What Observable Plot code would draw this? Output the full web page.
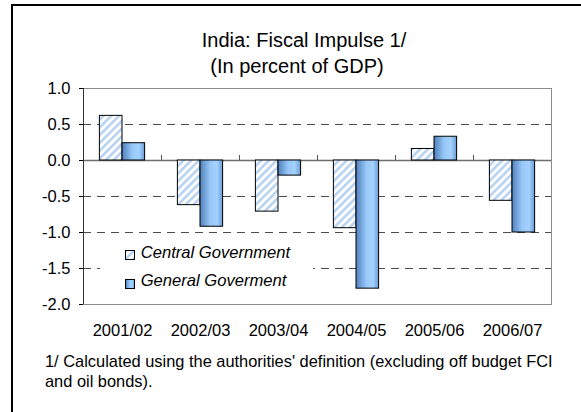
<!DOCTYPE html>
<html><head><meta charset="utf-8">
<script src="https://cdn.jsdelivr.net/npm/d3@7"></script>
<script src="https://cdn.jsdelivr.net/npm/@observablehq/plot@0.6"></script>
<style>
html,body{margin:0;padding:0;background:#fff;overflow:hidden;width:581px;height:412px}
body{font-family:"Liberation Sans",Arial,sans-serif;color:#000}
#frame{position:absolute;left:11px;top:4px;width:600px;height:430px;border:2px solid #000}
#title{position:absolute;left:0;width:582px;top:21.8px;text-align:center;font-size:20px;line-height:24px;white-space:nowrap}
#subtitle{position:absolute;left:0;width:568px;top:47.6px;text-align:center;font-size:20px;line-height:24px;white-space:nowrap}
#chart{position:absolute;left:0;top:74px}
#legend{position:absolute;left:87px;top:232px;width:213px;height:62px;background:#fff}
#legend .sw{position:absolute;left:25px;width:10px;height:10px}
#legend .lt{position:absolute;left:40.7px;font-size:16.6px;line-height:20px;font-style:italic;white-space:nowrap}
#note{position:absolute;left:32px;top:345.3px;font-size:16.4px;line-height:20px;white-space:nowrap}
</style></head><body>
<svg width="0" height="0" style="position:absolute;left:0;top:0">
<defs>
<pattern id="hatch" patternUnits="userSpaceOnUse" width="5.5" height="5.5" patternTransform="rotate(45)">
<rect width="5.5" height="5.5" fill="#fff"/><rect width="2.6" height="5.5" fill="#b8d3f1"/>
</pattern>
<linearGradient id="grad" x1="0" x2="1" y1="0" y2="0">
<stop offset="0" stop-color="#4f80bb"/>
<stop offset="0.45" stop-color="#98c8f8"/>
<stop offset="0.75" stop-color="#a4d2ff"/>
<stop offset="1" stop-color="#6a9bd4"/>
</linearGradient>
</defs></svg>
<div id="frame">
  <div id="title">India: Fiscal Impulse 1/</div>
  <div id="subtitle">(In percent of GDP)</div>
  <div id="chart"></div>
  <div id="legend">
    <svg class="sw" style="top:12px" width="10" height="10"><rect x="0.5" y="0.5" width="9" height="9" fill="url(#hatch)" stroke="#000"/></svg>
    <div class="lt" id="lg0" style="top:4.55px"></div>
    <svg class="sw" style="top:41px" width="10" height="10"><rect x="0.5" y="0.5" width="9" height="9" fill="url(#grad)" stroke="#000"/></svg>
    <div class="lt" id="lg1" style="top:32.95px"></div>
  </div>
  <div id="note">1/ Calculated using the authorities' definition (excluding off budget FCI<br>and oil bonds).</div>
</div>
<script>
const years = ["2001/02","2002/03","2003/04","2004/05","2005/06","2006/07"];
const central = [0.62,-0.62,-0.71,-0.94,0.16,-0.56];
const general = [0.24,-0.92,-0.21,-1.78,0.33,-1.00];
const seriesNames = ["Central Government","General Goverment"];
const yTicks = [-2,-1.5,-1,-0.5,0,0.5,1];
const gridLines = [0.5,-0.5,-1,-1.5,-2];

document.getElementById("lg0").textContent = seriesNames[0];
document.getElementById("lg1").textContent = seriesNames[1];

const W = 568, H = 265, ML = 70, MR = 30, MT = 8, MB = 41;
const bw = (W - ML - MR) / years.length;
const barW = bw * 0.29;
const outer = (bw - 2 * barW) / 2;

const rowsC = years.map((year, i) => ({year, value: central[i]}));
const rowsG = years.map((year, i) => ({year, value: general[i]}));

const chart = Plot.plot({
  width: W, height: H,
  marginLeft: ML, marginRight: MR, marginTop: MT, marginBottom: MB,
  style: {fontFamily: '"Liberation Sans", Arial, sans-serif', fontSize: "16.5px", background: "transparent", overflow: "visible", color: "#000"},
  x: {type: "band", domain: years, padding: 0},
  y: {domain: [-2, 1]},
  marks: [
    Plot.ruleY(gridLines, {stroke: "#4d4d4d", strokeDasharray: "8,6"}),
    Plot.frame({stroke: "#8c8c8c"}),
    Plot.ruleY([0], {stroke: "#6e6e6e", strokeWidth: 1.5}),
    Plot.barY(rowsC, {x: "year", y: "value", fill: "url(#hatch)", stroke: "#000", insetLeft: outer, insetRight: outer + barW}),
    Plot.barY(rowsG, {x: "year", y: "value", fill: "url(#grad)", stroke: "#000", insetLeft: outer + barW, insetRight: outer}),
    Plot.ruleX(years.slice(1), {y1: 0, y2: 0, insetTop: -5, dx: -bw / 2, stroke: "#555"}),
    Plot.ruleX(years.slice(0, 1), {dx: -bw / 2, stroke: "#333"}),
    Plot.axisY({ticks: yTicks, tickFormat: d => d.toFixed(1), tickSize: 4, tickPadding: 9, label: null}),
    Plot.axisX({tickSize: 0, tickPadding: 20, label: null})
  ]
});
document.getElementById("chart").appendChild(chart);
</script>
</body></html>
